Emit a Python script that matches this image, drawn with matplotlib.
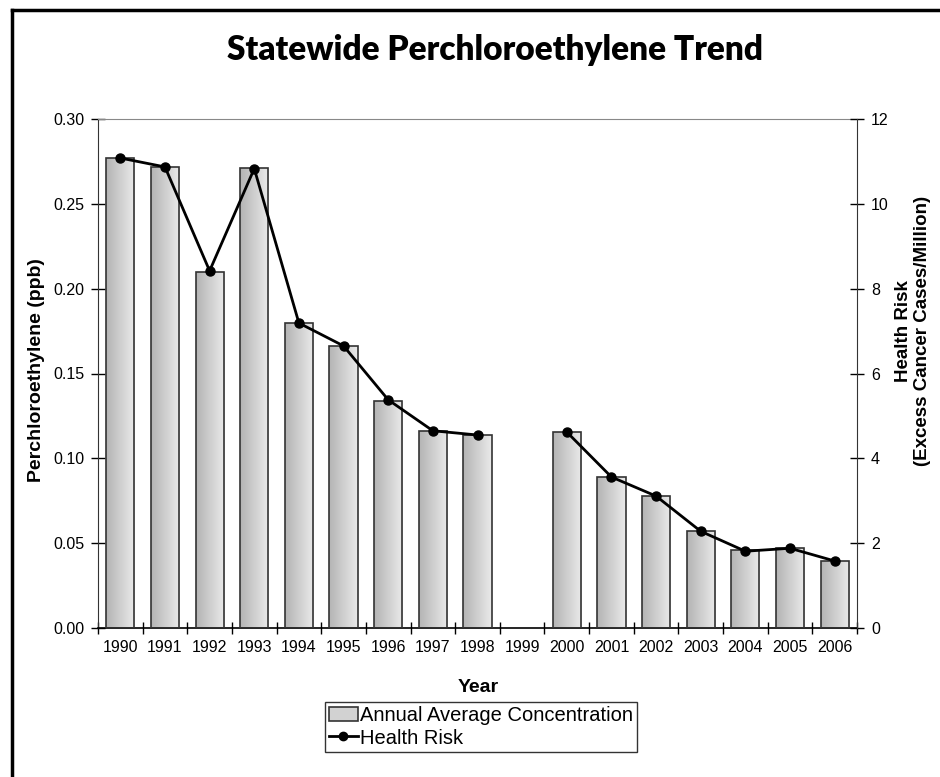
import numpy as np
import matplotlib
matplotlib.use('Agg')
import matplotlib.pyplot as plt
from matplotlib.patches import Patch
from matplotlib.lines import Line2D
from matplotlib.colors import LinearSegmentedColormap

years = ['1990', '1991', '1992', '1993', '1994', '1995', '1996', '1997', '1998',
         '1999', '2000', '2001', '2002', '2003', '2004', '2005', '2006']
concentration = [0.277, 0.272, 0.210, 0.271, 0.180, 0.166, 0.134, 0.116, 0.114,
                 np.nan, 0.1155, 0.089, 0.078, 0.057, 0.046, 0.047, 0.0395]
health_risk = [11.08, 10.87, 8.42, 10.83, 7.19, 6.65, 5.38, 4.65, 4.55,
               np.nan, 4.62, 3.56, 3.11, 2.28, 1.81, 1.88, 1.58]

plt.rcParams['font.family'] = ['Liberation Sans', 'DejaVu Sans']

fig = plt.figure(figsize=(9.4, 7.77), dpi=100)
ax = fig.add_axes([98/940, 1-628/777, (857-98)/940, (628-119)/777])
x = np.arange(len(years))

# bars with a left-to-right gray gradient
grad = LinearSegmentedColormap.from_list('g', ['#b4b4b4', '#eaeaea'])
bars = ax.bar(x, concentration, width=0.63, facecolor='none',
              edgecolor='#333333', linewidth=1.2, zorder=3)
for b in bars:
    h = b.get_height()
    if not np.isfinite(h):
        continue
    x0 = b.get_x()
    im = ax.imshow(np.linspace(0, 1, 64).reshape(1, -1), cmap=grad, aspect='auto',
                   extent=[x0, x0 + b.get_width(), 0, h], zorder=2)
    im.set_clip_path(b)

ax.set_xlim(-0.5, len(years) - 0.5)
ax.set_ylim(0, 0.30)
ax.set_yticks(np.arange(0, 0.301, 0.05))
ax.set_yticklabels(['%.2f' % v for v in np.arange(0, 0.301, 0.05)])
ax.set_xticks(x)
ax.set_xticklabels(years)
ax.set_xticks(np.arange(-0.5, len(years)), minor=True)
ax.tick_params(axis='x', which='major', length=0, pad=9, labelsize=11.5)
ax.tick_params(axis='x', which='minor', direction='inout', length=9, width=1)
ax.tick_params(axis='y', direction='inout', length=10, width=1, labelsize=11.5, pad=5)
ax.spines['top'].set_color('#888888')
ax.spines['right'].set_visible(False)
ax.spines['left'].set_color('#333333')
ax.spines['bottom'].set_linewidth(1.2)

ax2 = ax.twinx()
ax2.plot(x, health_risk, color='black', linewidth=2.0, marker='o', markersize=6.5, zorder=5)
ax2.set_ylim(0, 12)
ax2.set_yticks(range(0, 13, 2))
ax2.tick_params(axis='y', direction='inout', length=10, width=1, labelsize=11.5, pad=5)
ax2.spines['right'].set_color('#333333')
ax2.spines['top'].set_visible(False)
ax2.spines['left'].set_visible(False)
ax2.spines['bottom'].set_visible(False)

fig.text(495/940, 1-50/777, 'Statewide Perchloroethylene Trend', ha='center', va='center',
         fontsize=24, fontweight='heavy', family=['Lato', 'DejaVu Sans'])
fig.text(37/940, 1-370/777, 'Perchloroethylene (ppb)', rotation=90, ha='center',
         va='center', fontsize=14, fontweight='bold')
fig.text(913/940, 1-331/777, 'Health Risk\n(Excess Cancer Cases/Million)', rotation=90,
         ha='center', va='center', fontsize=13.5, fontweight='bold', linespacing=1.1)
fig.text(478/940, 1-688/777, 'Year', ha='center', va='center', fontsize=14, fontweight='bold')

handles = [Patch(facecolor='#d2d2d2', edgecolor='#333333', linewidth=1.2),
           Line2D([], [], color='black', linewidth=2.0, marker='o', markersize=6)]
leg = fig.legend(handles, ['Annual Average Concentration', 'Health Risk'],
                 loc='center', bbox_to_anchor=(481/940, 1-727/777), fontsize=14.5,
                 fancybox=False, framealpha=1, edgecolor='#333333', borderpad=0.2,
                 labelspacing=0.15, handletextpad=0.1, handlelength=1.4,
                 borderaxespad=0)
leg.get_frame().set_linewidth(1.0)

# outer chart frame (left and top edges are visible)
fig.add_artist(Line2D([12/940, 12/940], [0, 1-10/777], color='black', linewidth=2.5,
                      transform=fig.transFigure))
fig.add_artist(Line2D([12/940, 1], [1-10/777, 1-10/777], color='black', linewidth=2.5,
                      transform=fig.transFigure))

fig.savefig('out.png', dpi=100)
